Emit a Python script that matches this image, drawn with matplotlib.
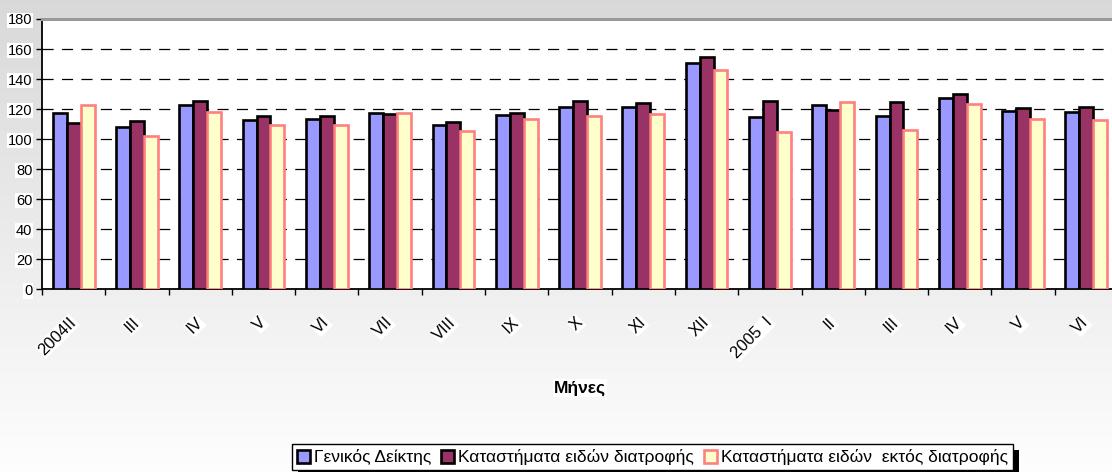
import numpy as np
import matplotlib
matplotlib.use('Agg')
import matplotlib.pyplot as plt
from matplotlib.patches import Rectangle, Patch

plt.rcParams['font.family'] = ['Liberation Sans', 'DejaVu Sans']
plt.rcParams['lines.scale_dashes'] = False

months = ["2004II", "III", "IV", "V", "VI", "VII", "VIII", "IX", "X", "XI", "XII",
          "2005  I", "II", "III", "IV", "V", "VI"]
general = [117.3, 108.2, 122.7, 112.9, 113.5, 117.7, 109.7, 116.0, 121.7, 121.1, 151.0,
           115.0, 123.0, 115.3, 127.3, 118.7, 118.0]
food = [111.0, 112.4, 125.7, 115.1, 115.7, 116.9, 111.5, 117.5, 125.5, 124.2, 154.7,
        125.5, 119.3, 124.4, 129.8, 121.0, 121.7]
nonfood = [123.0, 102.2, 118.2, 109.1, 109.5, 117.3, 105.7, 113.1, 115.7, 116.7, 146.2,
           104.7, 124.7, 106.2, 123.3, 113.7, 112.7]
series_names = ["Γενικός Δείκτης", "Καταστήματα ειδών διατροφής",
                "Καταστήματα ειδών  εκτός διατροφής"]
yticks = [0, 20, 40, 60, 80, 100, 120, 140, 160, 180]
xlabel = "Μήνες"

W, H = 1112, 472
fig = plt.figure(figsize=(W / 100, H / 100), dpi=100)

# background gradient
bg = fig.add_axes([0, 0, 1, 1], zorder=-10)
grad = np.linspace(0.85, 0.995, 256).reshape(-1, 1)
bg.imshow(np.dstack([grad, grad, grad]), aspect='auto', extent=[0, 1, 0, 1])
bg.set_axis_off()

left_px, right_px, top_px, bot_px = 42, 1118, 19, 289.3
ax = fig.add_axes([left_px / W, (H - bot_px) / H, (right_px - left_px) / W,
                   (bot_px - top_px) / H])
ax.set_facecolor('white')

x = np.arange(len(months))
w = 0.22
face = ['#9999ff', '#993366', '#ffffcc']
edge = ['black', 'black', '#ff8080']
data = [general, food, nonfood]
for i in range(3):
    ax.bar(x + (i - 1) * w, data[i], width=w, color=face[i], edgecolor=edge[i],
           linewidth=1.9, zorder=3)

ax.set_xlim(-0.5, len(months) - 0.5)
ax.set_ylim(0, 180)
ax.set_yticks(yticks)
ax.set_yticklabels([str(v) for v in yticks], fontsize=10.5)
for lab in ax.get_yticklabels():
    lab.set_bbox(dict(facecolor='white', edgecolor='none', pad=0.5))

ax.set_xticks(np.arange(len(months) + 1) - 0.5)
ax.set_xticklabels([])
ax.set_xticks(x, minor=True)
ax.set_xticklabels(months, minor=True, fontsize=12, rotation=45,
                   ha='right', va='center', rotation_mode='anchor')
ax.tick_params(axis='x', which='minor', length=0, pad=22)
ax.tick_params(axis='x', which='major', length=4, width=1, direction='out')
ax.tick_params(axis='y', length=4, width=1, direction='out', pad=3)
for lab in ax.get_xticklabels(minor=True):
    lab.set_bbox(dict(facecolor='white', edgecolor='none', pad=0.5))

for yv in yticks[1:-1]:
    ax.axhline(yv, color='black', linewidth=0.9, dashes=(8, 6), zorder=1)

ax.spines['top'].set_color('#999999')
ax.spines['top'].set_linewidth(2.2)
ax.spines['right'].set_visible(False)
ax.spines['left'].set_linewidth(1.3)
ax.spines['bottom'].set_linewidth(1.3)

fig.text(580 / W, (H - 388) / H, xlabel, fontsize=12.5, fontweight='bold',
         ha='center', va='center',
         bbox=dict(facecolor='white', edgecolor='none', pad=1))

handles = [Patch(facecolor=face[i], edgecolor=edge[i], linewidth=1.9) for i in range(3)]
leg = fig.legend(handles, series_names, loc='upper left',
                 bbox_to_anchor=(292 / W, (H - 444) / H), bbox_transform=fig.transFigure,
                 ncol=3, fontsize=12.5, frameon=True, fancybox=False, borderaxespad=0,
                 handlelength=0.75, handleheight=0.75, handletextpad=0.2,
                 columnspacing=0.6, borderpad=0.3)
leg.get_frame().set_edgecolor('black')
leg.get_frame().set_linewidth(1.0)
leg.get_frame().set_facecolor('white')
leg.get_frame().set_alpha(1)

fig.canvas.draw()
bb = leg.get_window_extent()
sh = Rectangle((bb.x0 + 6, bb.y0 - 6), bb.width, bb.height, transform=None,
               facecolor='black', edgecolor='none')
fig.patches.append(sh)
leg.set_zorder(10)
sh.set_zorder(9)

fig.savefig('out.png', dpi=100)
